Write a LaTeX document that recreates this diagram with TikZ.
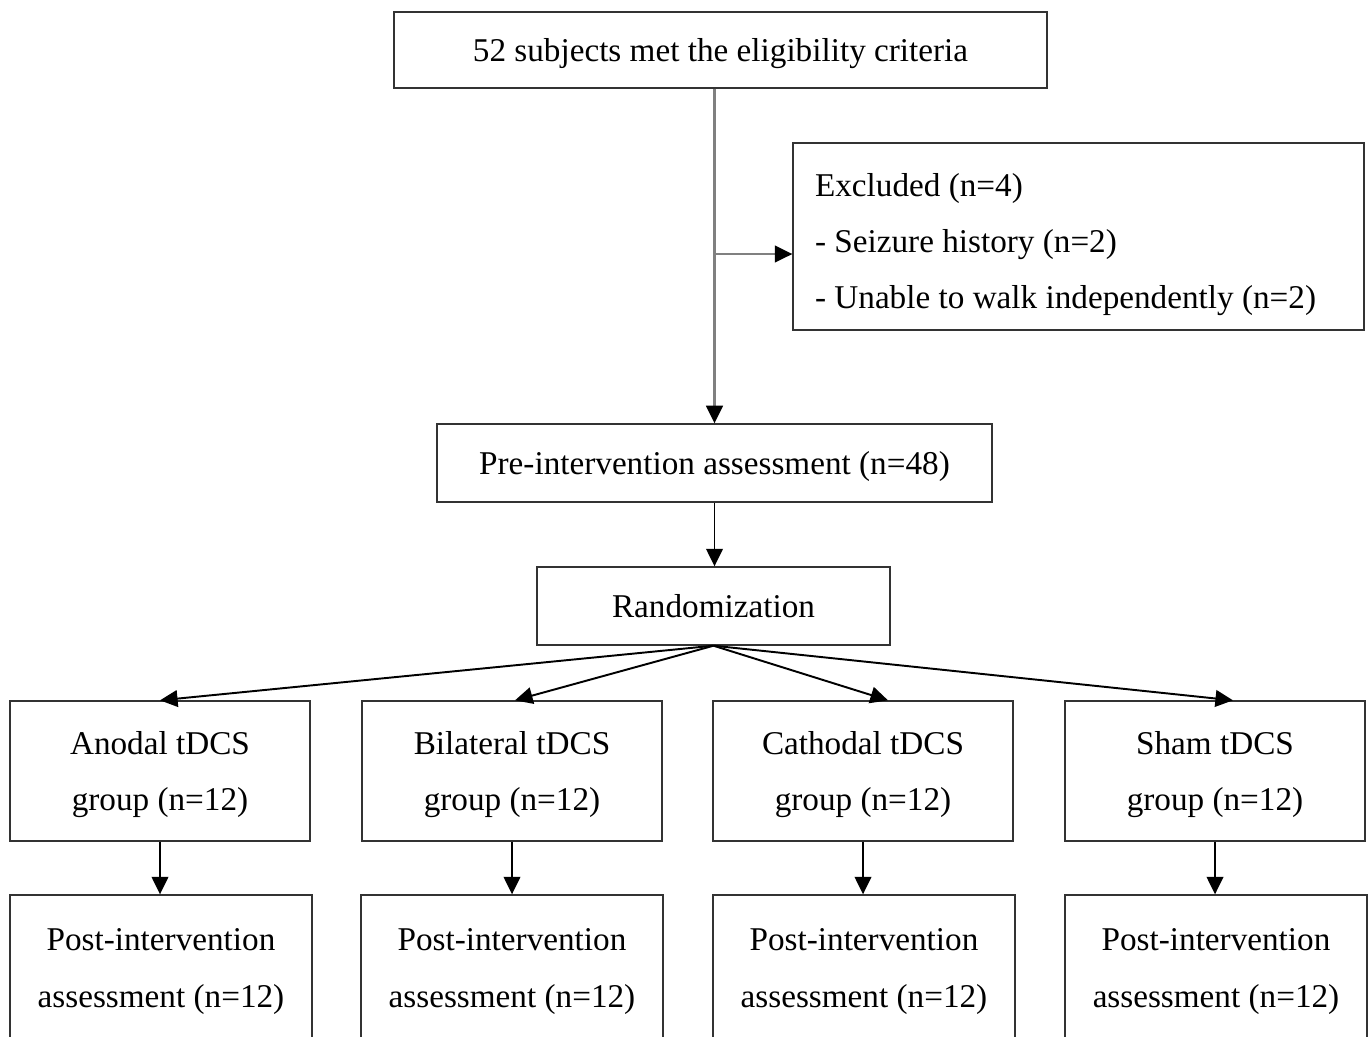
\documentclass[tikz,border=0pt]{standalone}
\usepackage{fontspec}
\setmainfont{Liberation Serif}
\usetikzlibrary{arrows.meta}
\begin{document}
\begin{tikzpicture}[
   x=0.02cm, y=-0.02cm,
   box/.style={rectangle, draw=black!80, line width=0.8pt, inner sep=0pt, align=center,
      text depth=0pt, font=\fontsize{18.9}{31.9}\selectfont},
   exbox/.style={box, align=flush left, text width=10.54cm, inner xsep=0.44cm,
      minimum height=3.74cm, text depth=59pt},
   groupbox/.style={box, minimum width=6cm, minimum height=2.8cm},
   postbox/.style={box, minimum width=6.04cm, minimum height=2.92cm},
   arrow/.style={-{Triangle[length=10pt, width=9.5pt]}, line width=1.1pt},
   grayarrow/.style={draw=black!50, line width=1.2pt, -{Triangle[length=10pt, width=9.5pt, color=black]}}
]
\clip (0,0) rectangle (1369,1036);

% Nodes
\node[box, minimum width=13.06cm, minimum height=1.52cm] (elig) at (720.5,50) {52 subjects met the eligibility criteria};
\node[exbox] (excl) at (1078.5,236.5) {Excluded (n=4)\\- Seizure history (n=2)\\- Unable to walk independently (n=2)};
\node[box, minimum width=11.1cm, minimum height=1.56cm] (pre) at (714.5,463) {Pre-intervention assessment (n=48)};
\node[box, minimum width=7.06cm, minimum height=1.56cm] (rand) at (713.5,606) {Randomization};

\node[groupbox] (anodal) at (160,771) {Anodal tDCS\\group (n=12)};
\node[groupbox] (bilat) at (512,771) {Bilateral tDCS\\group (n=12)};
\node[groupbox] (cathod) at (863,771) {Cathodal tDCS\\group (n=12)};
\node[groupbox] (sham) at (1215,771) {Sham tDCS\\group (n=12)};

\node[postbox] (postA) at (161,968) {Post-intervention\\assessment (n=12)};
\node[postbox] (postB) at (512,968) {Post-intervention\\assessment (n=12)};
\node[postbox] (postC) at (864,968) {Post-intervention\\assessment (n=12)};
\node[postbox] (postS) at (1216,968) {Post-intervention\\assessment (n=12)};

\coordinate (branch) at (714.5,254);

% Edges
\draw[grayarrow] (elig.south -| pre.north) -- (pre.north);
\draw[grayarrow] (branch) -- (branch -| excl.west);
\draw[arrow] (pre.south) -- (pre.south |- rand.north);

\draw[arrow] (rand.south) -- (anodal.north);
\draw[arrow] (rand.south) -- ([xshift=0.06cm]bilat.north);
\draw[arrow] (rand.south) -- ([xshift=0.5cm]cathod.north);
\draw[arrow] (rand.south) -- ([xshift=0.36cm]sham.north);

\draw[arrow] (anodal.south) -- (anodal.south |- postA.north);
\draw[arrow] (bilat.south) -- (bilat.south |- postB.north);
\draw[arrow] (cathod.south) -- (cathod.south |- postC.north);
\draw[arrow] (sham.south) -- (sham.south |- postS.north);

\end{tikzpicture}
\end{document}
